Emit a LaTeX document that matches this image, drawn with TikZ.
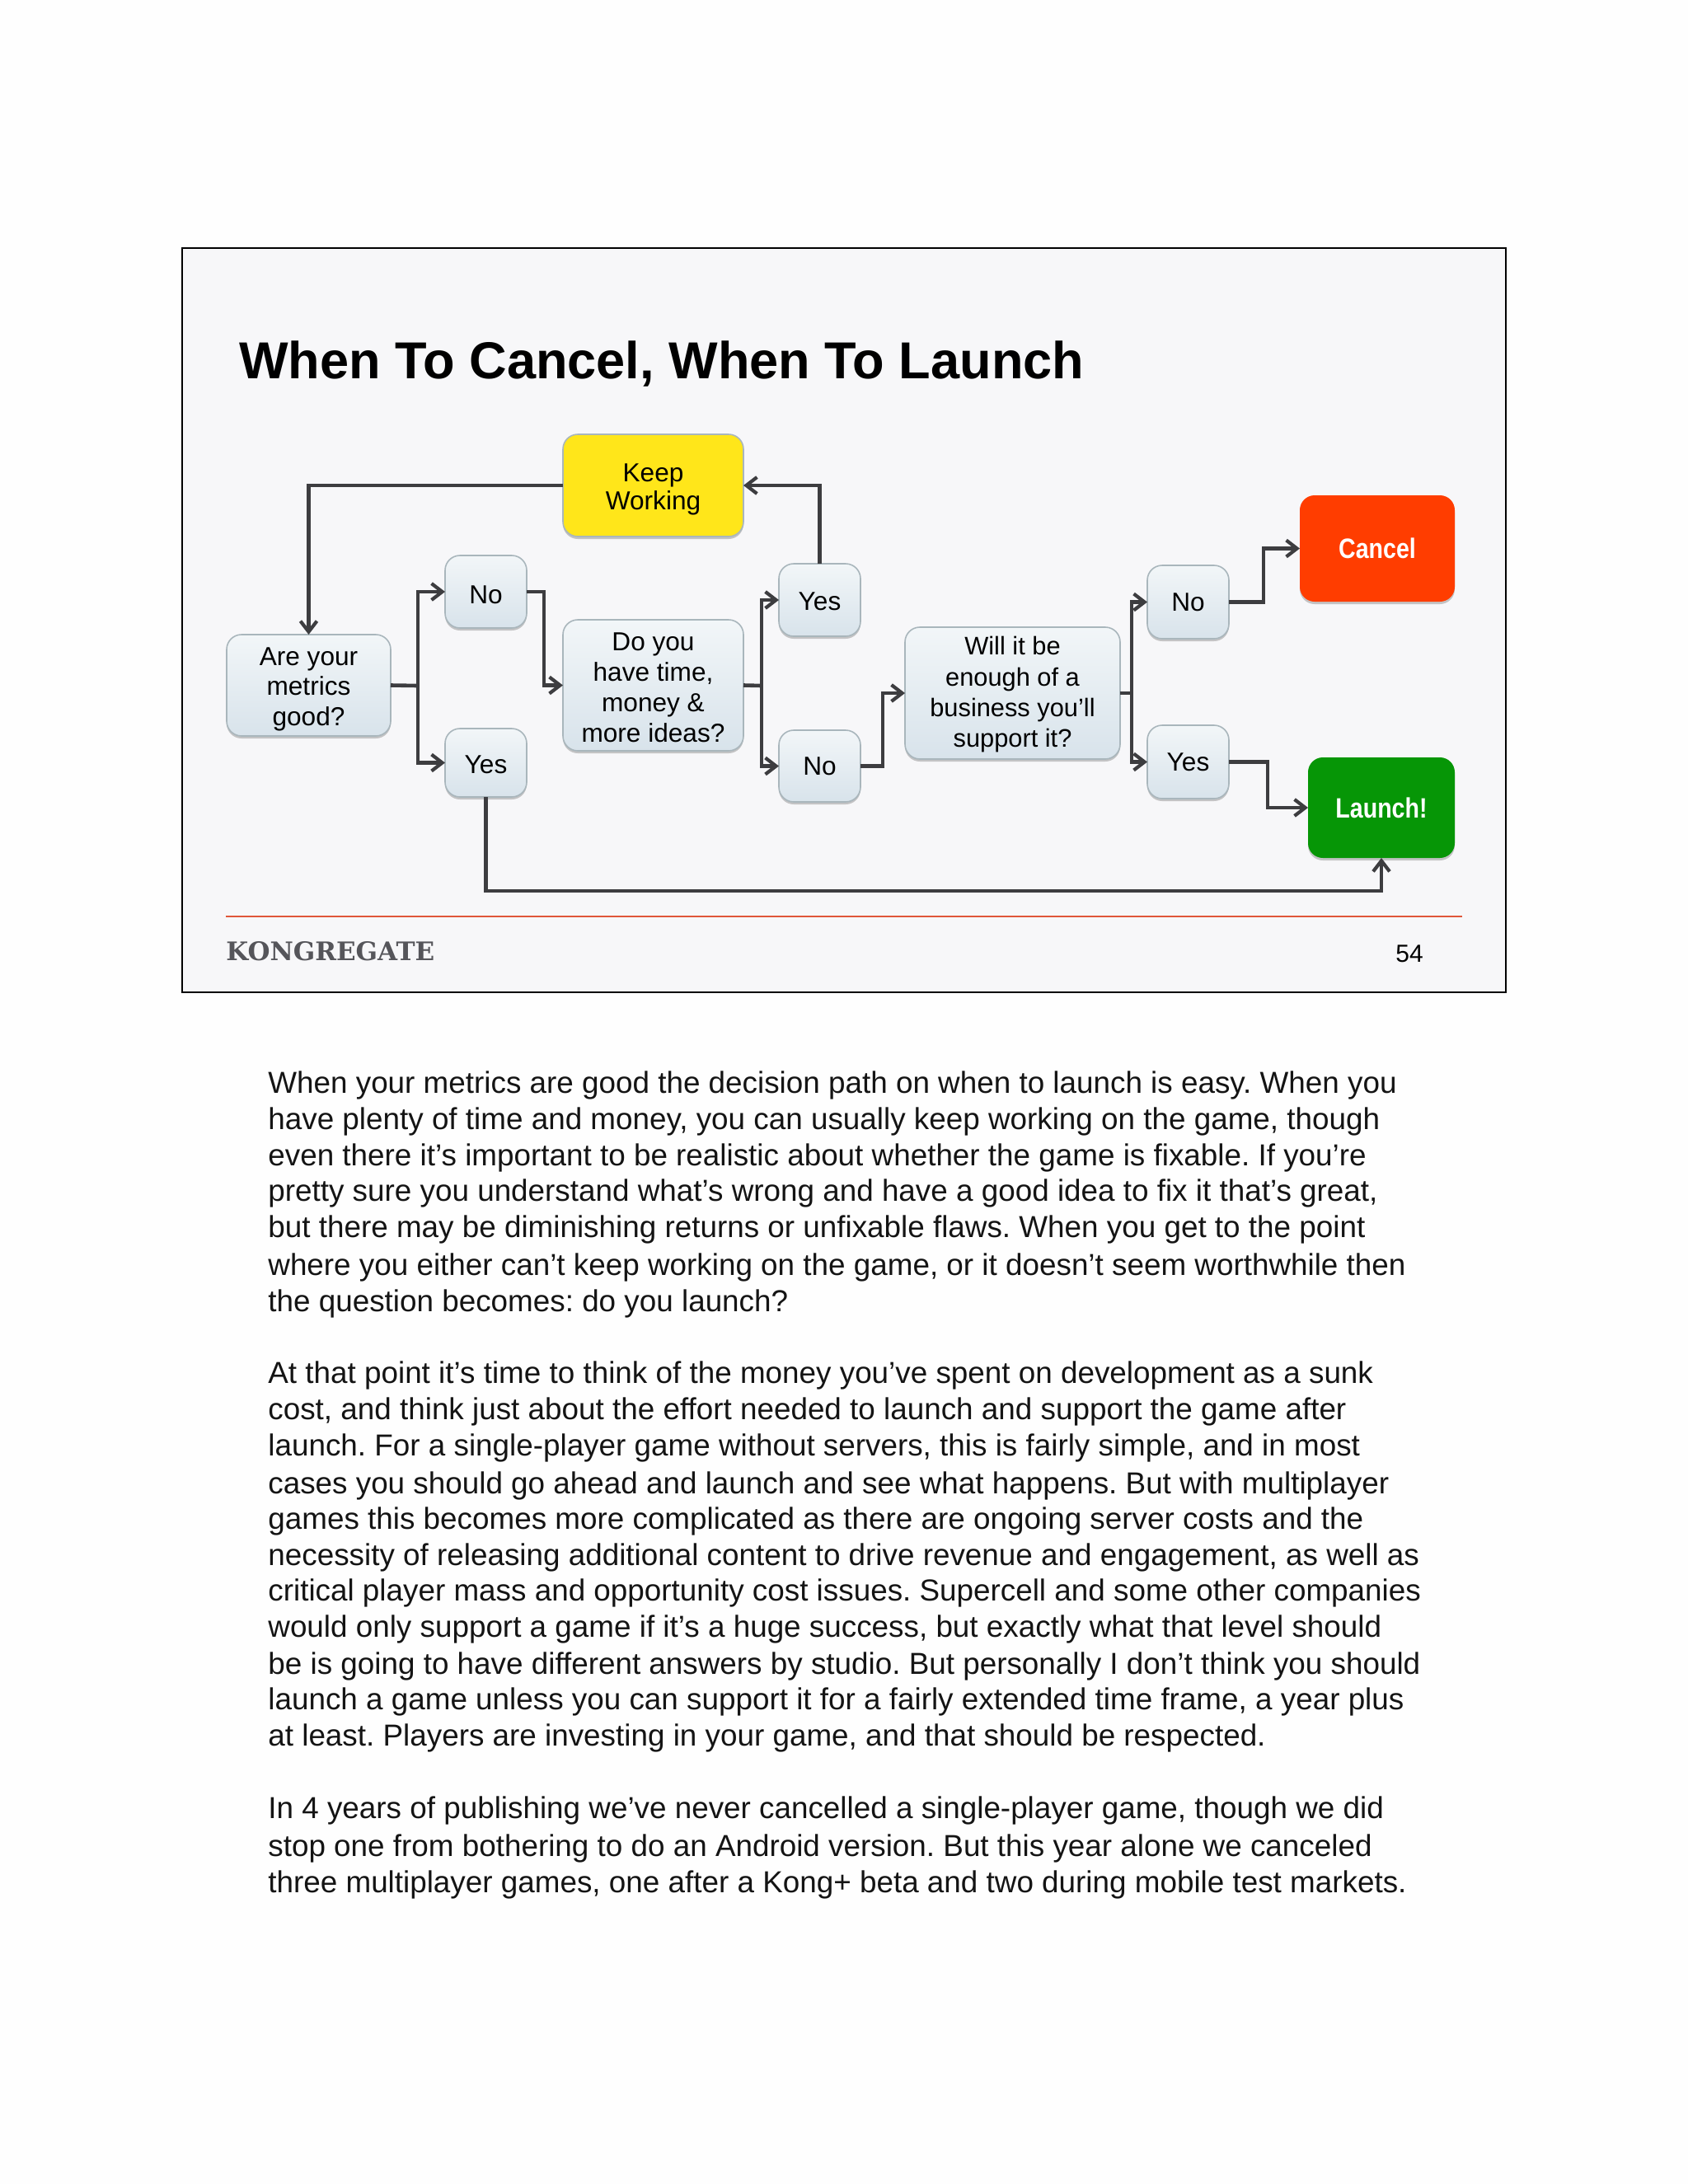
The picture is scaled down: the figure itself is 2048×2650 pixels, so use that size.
\documentclass[tikz,border=0pt]{standalone}
\usepackage{fontspec}
\setmainfont{Liberation Sans}
\newfontfamily\slabfont{DejaVu Serif}
\newfontface\condbold{Liberation Sans Bold}[FakeStretch=0.84]
\frenchspacing
\usetikzlibrary{arrows.meta,shadows}
\definecolor{slidebg}{HTML}{F7F7F9}
\definecolor{pagebg}{HTML}{FEFEFE}
\definecolor{linkc}{HTML}{3D3D40}
\definecolor{boxtop}{HTML}{F2F6F8}
\definecolor{boxbot}{HTML}{D8E3EB}
\definecolor{boxline}{HTML}{A9B6BC}
\definecolor{keepy}{HTML}{FFE61A}
\definecolor{cancelr}{HTML}{FF3D00}
\definecolor{launchg}{HTML}{069606}
\definecolor{rulec}{HTML}{E0573A}
\definecolor{logoc}{HTML}{55555A}
\tikzset{
  x=0.5pt,y=-0.5pt,
  flow/.style={rounded corners=9pt,inner sep=0pt,outer sep=0pt,align=center,
    font=\fontsize{15.8}{18.4}\selectfont,text=black,
    drop shadow={shadow xshift=0pt,shadow yshift=-1.5pt,opacity=0.3,fill=black!70}},
  plain/.style={flow,draw=boxline,line width=0.8pt,top color=boxtop,bottom color=boxbot},
  keepbox/.style={flow,draw=boxline,line width=0.8pt,fill=keepy,font=\fontsize{15.8}{17}\selectfont},
  redbox/.style={flow,fill=cancelr,text=white,font=\condbold\fontsize{17}{18.4}\selectfont},
  greenbox/.style={flow,fill=launchg,text=white,font=\condbold\fontsize{17}{18.4}\selectfont},
  conn/.style={draw=linkc,line width=2.3pt,miter limit=4},
  arr/.style={conn,-{Straight Barb[length=6.5pt,width=10pt,line width=2.1pt]}},
  para/.style={anchor=base west,inner sep=0pt,font=\fontsize{18.42}{22}\selectfont,text=black!92},
}
\newcommand{\bx}[7]{\node[#1,minimum width=#4*0.5pt-#2*0.5pt,minimum height=#5*0.5pt-#3*0.5pt,anchor=north west] (#6) at (#2,#3) {#7};}
\begin{document}
\begin{tikzpicture}
\useasboundingbox (0,0) rectangle (2048,2650);
\fill[pagebg] (0,0) rectangle (2048,2650);
\draw[black,line width=1.2pt,fill=slidebg] (221,301) rectangle (1827,1204);
\node[anchor=base west,inner sep=0pt,font=\fontsize{31.55}{36}\bfseries\selectfont] (title) at (290,459) {When To Cancel, When To Launch};

\bx{keepbox,text height=32.4pt}{683}{527}{902}{651}{keep}{Keep\\Working}
\bx{plain,text height=52.5pt}{275}{770}{474}{893}{metrics}{Are your\\metrics\\good?}
\bx{plain,text height=14.5pt}{540}{674}{639}{762}{no1}{No}
\bx{plain,text height=13pt}{540}{884}{639}{967}{yes1}{Yes}
\bx{plain,text height=68.8pt}{683}{752}{902}{911}{time}{Do you\\have time,\\money \&\\more ideas?}
\bx{plain,text height=13pt}{945}{684}{1044}{772}{yes2}{Yes}
\bx{plain,text height=11.5pt}{945}{886}{1044}{973}{no2}{No}
\bx{plain,text height=69.1pt,font=\fontsize{15.4}{18.7}\selectfont}{1098}{761}{1359}{921}{biz}{Will it be\\enough of a\\business you’ll\\support it?}
\bx{plain,text height=11.5pt}{1392}{686}{1491}{775}{no3}{No}
\bx{plain,text height=11.5pt}{1392}{880}{1491}{969}{yes3}{Yes}
\bx{redbox}{1577}{601}{1765}{730}{cancel}{Cancel}
\bx{greenbox}{1587}{919}{1765}{1041}{launch}{Launch!}

\coordinate (j1) at (507,832);
\coordinate (j2) at (924,832);
\coordinate (j3) at (1373,841);
\draw[conn] (metrics.east) -- (j1);
\draw[arr] (j1) |- (no1.west);
\draw[arr] (j1) |- (yes1.west);
\draw[arr] (no1.east) -- ++(21,0) |- (time.west);
\draw[conn] (time.east) -- (j2);
\draw[arr] (j2) |- (yes2.west);
\draw[arr] (j2) |- (no2.west);
\draw[arr] (yes2.north) |- (keep.east);
\draw[arr] (keep.west) -| (metrics.north);
\draw[arr] (no2.east) -- ++(27,0) |- (biz.west);
\draw[conn] (biz.east) -- (j3);
\draw[arr] (j3) |- (no3.west);
\draw[arr] (j3) |- (yes3.west);
\draw[arr] (no3.east) -- ++(42,0) |- (cancel.west);
\draw[arr] (yes3.east) -- ++(47,0) |- (launch.west);
\draw[arr] (yes1.south) -- ++(0,114) -| (launch.south);

\draw[rulec,line width=0.8pt] (274,1112) -- (1774,1112);
\node[anchor=base west,inner sep=0pt,text=logoc,font=\slabfont\bfseries\fontsize{15.5}{18}\selectfont] (logo) at (274,1165) {KONGREGATE};
\node[anchor=base,inner sep=0pt,font=\fontsize{15}{18}\selectfont] (page) at (1710,1167) {54};

\node[para] (l1) at (325,1326) {When your metrics are good the decision path on when to launch is easy. When you};
\node[para] (l2) at (325,1370) {have plenty of time and money, you can usually keep working on the game, though};
\node[para] (l3) at (325,1414) {even there it’s important to be realistic about whether the game is fixable. If you’re};
\node[para] (l4) at (325,1457) {pretty sure you understand what’s wrong and have a good idea to fix it that’s great,};
\node[para] (l5) at (325,1501) {but there may be diminishing returns or unfixable flaws. When you get to the point};
\node[para] (l6) at (325,1547) {where you either can’t keep working on the game, or it doesn’t seem worthwhile then};
\node[para] (l7) at (325,1591) {the question becomes: do you launch?};
\node[para] (m1) at (325,1678) {At that point it’s time to think of the money you’ve spent on development as a sunk};
\node[para] (m2) at (325,1722) {cost, and think just about the effort needed to launch and support the game after};
\node[para] (m3) at (325,1766) {launch. For a single-player game without servers, this is fairly simple, and in most};
\node[para] (m4) at (325,1812) {cases you should go ahead and launch and see what happens. But with multiplayer};
\node[para] (m5) at (325,1855) {games this becomes more complicated as there are ongoing server costs and the};
\node[para] (m6) at (325,1899) {necessity of releasing additional content to drive revenue and engagement, as well as};
\node[para] (m7) at (325,1942) {critical player mass and opportunity cost issues. Supercell and some other companies};
\node[para] (m8) at (325,1986) {would only support a game if it’s a huge success, but exactly what that level should};
\node[para] (m9) at (325,2031) {be is going to have different answers by studio. But personally I don’t think you should};
\node[para] (m10) at (325,2074) {launch a game unless you can support it for a fairly extended time frame, a year plus};
\node[para] (m11) at (325,2118) {at least. Players are investing in your game, and that should be respected.};
\node[para] (n1) at (325,2206) {In 4 years of publishing we’ve never cancelled a single-player game, though we did};
\node[para] (n2) at (325,2252) {stop one from bothering to do an Android version. But this year alone we canceled};
\node[para] (n3) at (325,2296) {three multiplayer games, one after a Kong+ beta and two during mobile test markets.};
\end{tikzpicture}
\end{document}
